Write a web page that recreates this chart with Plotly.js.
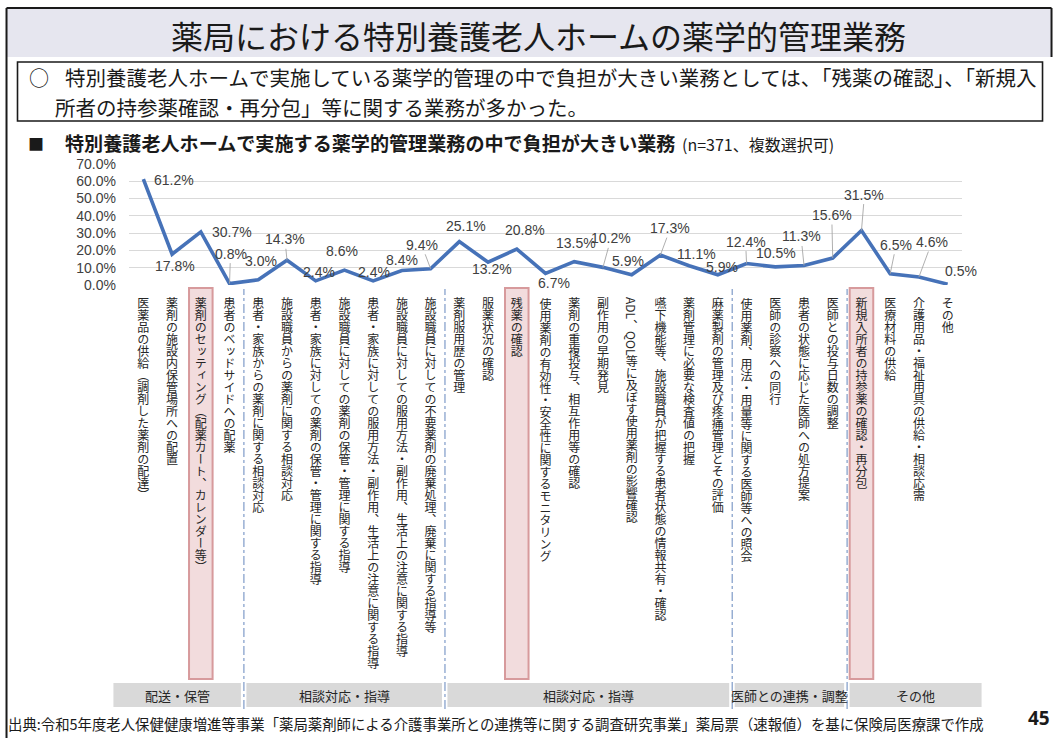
<!DOCTYPE html>
<html><head><meta charset="utf-8">
<script src="https://cdn.plot.ly/plotly-3.0.1.min.js"></script>
<style>html,body{margin:0;padding:0;background:#fff;overflow:hidden;} #chart{width:1054px;height:738px;}</style>
</head><body><div id="chart"></div>
<script>
// ---------------- DATA ----------------
const categories = [
  "医薬品の供給（調剤した薬剤の配達）",
  "薬剤の施設内保管場所への配置",
  "薬剤のセッティング（配薬カート、カレンダー等）",
  "患者のベッドサイドへの配薬",
  "患者・家族からの薬剤に関する相談対応",
  "施設職員からの薬剤に関する相談対応",
  "患者・家族に対しての薬剤の保管・管理に関する指導",
  "施設職員に対しての薬剤の保管・管理に関する指導",
  "患者・家族に対しての服用方法・副作用、生活上の注意に関する指導",
  "施設職員に対しての服用方法・副作用、生活上の注意に関する指導",
  "施設職員に対しての不要薬剤の廃棄処理、廃棄に関する指導等",
  "薬剤服用歴の管理",
  "服薬状況の確認",
  "残薬の確認",
  "使用薬剤の有効性・安全性に関するモニタリング",
  "薬剤の重複投与、相互作用等の確認",
  "副作用の早期発見",
  "ADL、QOL等に及ぼす使用薬剤の影響確認",
  "嚥下機能等、施設職員が把握する患者状態の情報共有・確認",
  "薬剤管理に必要な検査値の把握",
  "麻薬製剤の管理及び疼痛管理とその評価",
  "使用薬剤、用法・用量等に関する医師等への照会",
  "医師の診察への同行",
  "患者の状態に応じた医師への処方提案",
  "医師との投与日数の調整",
  "新規入所者の持参薬の確認・再分包",
  "医療材料の供給",
  "介護用品・福祉用具の供給・相談応需",
  "その他"
];
const values = [61.2, 17.8, 30.7, 0.8, 3.0, 14.3, 2.4, 8.6, 2.4, 8.4, 9.4,
                25.1, 13.2, 20.8, 6.7, 13.5, 10.2, 5.9, 17.3, 11.1, 5.9,
                12.4, 10.5, 11.3, 15.6, 31.5, 6.5, 4.6, 0.5];
const highlightedCategories = [
  "薬剤のセッティング（配薬カート、カレンダー等）",
  "残薬の確認",
  "新規入所者の持参薬の確認・再分包"
];
const groupNames = ["配送・保管", "相談対応・指導", "相談対応・指導", "医師との連携・調整", "その他"];
const groupSizes = [4, 7, 10, 4, 4];
const yTickValues = [0, 10, 20, 30, 40, 50, 60, 70];
const yTickLabels = ["0.0%", "10.0%", "20.0%", "30.0%", "40.0%", "50.0%", "60.0%", "70.0%"];

const titleText = "薬局における特別養護老人ホームの薬学的管理業務";
const summaryLine1 = "特別養護老人ホームで実施している薬学的管理の中で負担が大きい業務としては、「残薬の確認」、「新規入";
const summaryLine2 = "所者の持参薬確認・再分包」等に関する業務が多かった。";
const chartHeadingBold = "特別養護老人ホームで実施する薬学的管理業務の中で負担が大きい業務";
const chartHeadingNote = "(n=371、複数選択可)";
const sourceText = "出典:令和5年度老人保健健康増進等事業「薬局薬剤師による介護事業所との連携等に関する調査研究事業」薬局票（速報値）を基に保険局医療課で作成";
const pageNumber = "45";

// ---------------- LAYOUT HELPERS ----------------
const W = 1054, H = 738, ML = 128.6, MR = 91.6, MT = 164, MB = 453;
const PW = W - ML - MR, PH = H - MT - MB;
const px = v => (v - ML) / PW;
const py = v => (H - MB - v) / PH;
const N = categories.length;
const catPaper = b => (b + 0.5) / N; // paper x of (fractional) category index

// label offsets in pixels relative to each point [dx, dy, leader]
const labelOffsets = [
  [31, 1, 0], [3, 12, 0], [31, 0, 0], [1, -30, 1], [3, -19, 0], [-2, -21, 1],
  [3, -9, 0], [-2, -19, 0], [1, -9, 0], [0, -10, 0], [-9, -24, 1],
  [7, -16, 0], [4, 7, 0], [8, -19, 0], [8, 10, 0], [2, -19, 0], [8, -29, 1],
  [-4, -14, 0], [10, -27, 1], [7, -12, 0], [4, -8, 0],
  [-1, -22, 1], [1, -14, 0], [-3, -29, 1], [-1, -43, 1],
  [3, -36, 1], [6, -29, 1], [13, -35, 1], [13, -13, 0]
];

const JP = '"Noto Sans CJK JP", "Noto Sans", sans-serif';
const NUM = '"Liberation Sans", Arial, sans-serif';
const TXT = '#262626';

const shapes = [];
const annotations = [];

// title band and frame
shapes.push({type:'rect', xref:'paper', yref:'paper', x0:px(6), x1:px(1052), y0:py(57), y1:py(8),
  fillcolor:'#e6e6ef', line:{width:0}, layer:'below'});
shapes.push({type:'line', xref:'paper', yref:'paper', x0:px(6), x1:px(1052), y0:py(8), y1:py(8), line:{color:'#1a1a1a', width:2}});
shapes.push({type:'line', xref:'paper', yref:'paper', x0:px(6), x1:px(6), y0:py(8), y1:py(738), line:{color:'#1a1a1a', width:2}});
shapes.push({type:'line', xref:'paper', yref:'paper', x0:px(1052), x1:px(1052), y0:py(8), y1:py(57), line:{color:'#1a1a1a', width:2}});
// summary box
shapes.push({type:'rect', xref:'paper', yref:'paper', x0:px(17), x1:px(1043), y0:py(121), y1:py(62),
  fillcolor:'#ffffff', line:{color:'#1a1a1a', width:1.6}, layer:'below'});

// highlight boxes behind category labels
highlightedCategories.forEach(c => {
  const i = categories.indexOf(c);
  shapes.push({type:'rect', xref:'paper', yref:'paper', x0:catPaper(i-0.41), x1:catPaper(i+0.41),
    y0:py(679), y1:py(288), fillcolor:'#f2dcdd', line:{color:'#d79a9c', width:2}, layer:'below'});
});

// group bands, dividers, group labels
let start = 0;
groupSizes.forEach((n, g) => {
  const end = start + n - 1;
  const left = g === 0 ? px(113) : catPaper(start - 0.5) + 2.5 / PW;
  const right = g === groupSizes.length - 1 ? px(982) : catPaper(end + 0.5) - 3 / PW;
  shapes.push({type:'rect', xref:'paper', yref:'paper', x0:left, x1:right, y0:py(707), y1:py(683),
    fillcolor:'#d9d9d9', line:{width:0}, layer:'below'});
  annotations.push({xref:'paper', yref:'paper', x:(left+right)/2, y:py(695), text:groupNames[g],
    showarrow:false, xanchor:'center', yanchor:'middle', font:{family:JP, size:13, color:TXT}});
  if (g > 0) {
    shapes.push({type:'line', xref:'paper', yref:'paper', x0:catPaper(start - 0.5), x1:catPaper(start - 0.5),
      y0:py(709), y1:py(289), line:{color:'#7f9bc8', width:1.2, dash:'dashdot'}});
  }
  start = end + 1;
});

// header texts
annotations.push({xref:'paper', yref:'paper', x:px(538), y:py(35), text:titleText, showarrow:false,
  xanchor:'center', yanchor:'middle', font:{family:JP, size:32, color:'#1a1a1a'}});
annotations.push({xref:'paper', yref:'paper', x:px(27), y:py(77), text:'○', showarrow:false,
  xanchor:'left', yanchor:'middle', font:{family:JP, size:20, color:'#1a1a1a'}});
annotations.push({xref:'paper', yref:'paper', x:px(63), y:py(77), text:summaryLine1, showarrow:false,
  xanchor:'left', yanchor:'middle', font:{family:JP, size:20.5, color:'#1a1a1a'}});
annotations.push({xref:'paper', yref:'paper', x:px(53), y:py(107), text:summaryLine2, showarrow:false,
  xanchor:'left', yanchor:'middle', font:{family:JP, size:20.5, color:'#1a1a1a'}});
annotations.push({xref:'paper', yref:'paper', x:px(26), y:py(143), text:'■', showarrow:false,
  xanchor:'left', yanchor:'middle', font:{family:JP, size:16, color:'#1a1a1a'}});
annotations.push({xref:'paper', yref:'paper', x:px(63), y:py(143), text:'<b>'+chartHeadingBold+'</b>', showarrow:false,
  xanchor:'left', yanchor:'middle', font:{family:JP, size:19.1, color:'#1a1a1a'}});
annotations.push({xref:'paper', yref:'paper', x:px(680), y:py(144), text:chartHeadingNote, showarrow:false,
  xanchor:'left', yanchor:'middle', font:{family:JP, size:16, color:'#1a1a1a'}});
annotations.push({xref:'paper', yref:'paper', x:px(5), y:py(723), text:sourceText, showarrow:false,
  xanchor:'left', yanchor:'middle', font:{family:JP, size:14.4, color:'#1a1a1a'}});
annotations.push({xref:'paper', yref:'paper', x:px(1039), y:py(718), text:'<b>'+pageNumber+'</b>', showarrow:false,
  xanchor:'center', yanchor:'middle', font:{family:'"Open Sans", sans-serif', size:19, color:'#1a1a1a'}});

// data labels
values.forEach((v, i) => {
  const o = labelOffsets[i];
  annotations.push({xref:'x', yref:'y', x:categories[i], y:v, text:v.toFixed(1)+'%',
    showarrow:true, arrowhead:0, arrowwidth:0.9, standoff:0,
    arrowcolor: o[2] ? '#a6a6a6' : 'rgba(0,0,0,0)',
    ax:o[0], ay:o[1], font:{family:NUM, size:14, color:'#404040'}});
});

const trace = {
  type:'scatter', mode:'lines', x:categories, y:values,
  line:{color:'#4672b8', width:3.6}, cliponaxis:false, hoverinfo:'skip'
};

const layout = {
  width:W, height:H, margin:{l:ML, r:MR, t:MT, b:MB, pad:0},
  paper_bgcolor:'#ffffff', plot_bgcolor:'rgba(0,0,0,0)', showlegend:false,
  xaxis:{type:'category', range:[-0.5, N-0.5], showgrid:false, zeroline:false, showline:false,
    ticks:'', tickangle:0, ticklabeloverflow:'allow', automargin:false,
    tickfont:{family:JP, size:12, color:TXT}},
  yaxis:{range:[0,70], tickmode:'array', tickvals:yTickValues, ticktext:yTickLabels,
    showgrid:true, gridcolor:'#d9d9d9', gridwidth:1, zeroline:false, showline:false,
    ticks:'', ticklabelstandoff:12, automargin:false,
    tickfont:{family:NUM, size:14, color:'#404040'}},
  shapes:shapes, annotations:annotations
};

const gd = document.getElementById('chart');
Plotly.newPlot(gd, [trace], layout, {staticPlot:true, displayModeBar:false}).then(function(){
  const base = gd.getBoundingClientRect();
  const labels = gd.querySelectorAll('.xaxislayer-above .xtick text');
  labels.forEach(function(t){
    const r0 = t.getBoundingClientRect();
    const cx0 = (r0.left + r0.right) / 2;
    t.setAttribute('text-anchor', 'start');
    t.style.writingMode = 'vertical-rl';
    t.style.textOrientation = 'mixed';
    const r1 = t.getBoundingClientRect();
    const cx1 = (r1.left + r1.right) / 2;
    const top1 = r1.top - base.top;
    const x = parseFloat(t.getAttribute('x') || '0');
    const y = parseFloat(t.getAttribute('y') || '0');
    t.setAttribute('x', x + (cx0 - cx1));
    t.setAttribute('y', y + (297 - top1));
  });
});
</script></body></html>
